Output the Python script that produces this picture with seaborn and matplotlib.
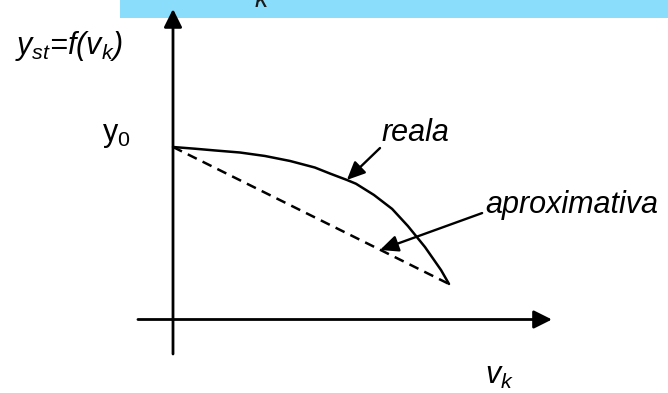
"""Schematic: static characteristic y_st = f(v_k), real vs approximated"""

import pandas as pd
import matplotlib.pyplot as plt
import seaborn as sns
from matplotlib.patches import Rectangle

#####################################################################
# data (v_k normalised so the curve ends at 1, y normalised so y0 = 1)
v_real = [0.0, 0.080, 0.152, 0.243, 0.333, 0.424, 0.514, 0.569, 0.630, 0.663, 0.728,
          0.794, 0.851, 0.913, 0.971, 1.0]
y_real = [1.0, 0.990, 0.980, 0.968, 0.948, 0.919, 0.881, 0.846, 0.809, 0.787, 0.722,
          0.641, 0.542, 0.420, 0.287, 0.206]
v_aprox = [0.0, 1.0]
y_aprox = [1.0, 0.206]

series_names = ["reala", "aproximativa"]

df = pd.concat([
    pd.DataFrame({"v": v_real, "y": y_real, "curba": series_names[0]}),
    pd.DataFrame({"v": v_aprox, "y": y_aprox, "curba": series_names[1]}),
])

#####################################################################
# style
sns.set_theme(style="white")
plt.rcParams["font.family"] = ["Liberation Sans", "DejaVu Sans"]
plt.rcParams["text.color"] = "black"
plt.rcParams["mathtext.fontset"] = "custom"
plt.rcParams["mathtext.it"] = "Liberation Sans:italic"
plt.rcParams["mathtext.rm"] = "Liberation Sans"

fig = plt.figure(figsize=(6.68, 3.93), dpi=100)
ax = fig.add_axes([0, 0, 1, 1])

# limits chosen so origin sits at px (173, 319.5)
ax.set_xlim(-173 / 276, (668 - 173) / 276)
ax.set_ylim(-(393 - 319.5) / 172.5, 319.5 / 172.5)
ax.set_axis_off()

# blue title band at the top (cut off)
ax.add_patch(Rectangle((120 / 668, 1 - 18 / 393), 548 / 668, 18 / 393,
                       transform=ax.transAxes, color="#8ADEFB", lw=0, zorder=0))
fig.text(255 / 668, 1 - 7 / 393, "k", fontsize=19, fontstyle="italic", color="k", va="baseline")

#####################################################################
# curves
sns.lineplot(data=df, x="v", y="y", style="curba", hue="curba",
             palette={"reala": "black", "aproximativa": "black"},
             dashes={"reala": "", "aproximativa": (4, 2.6)},
             estimator=None, sort=False, lw=1.8, legend=False, ax=ax, zorder=3)
for ln in ax.get_lines():
    ln.set_solid_joinstyle("round")

# axes arrows
axis_arrow = dict(arrowstyle="-|>,head_length=1.1,head_width=0.55", mutation_scale=10,
                  lw=2.0, color="black", shrinkA=0, shrinkB=0)
ax.annotate("", xy=(0, 1.80), xytext=(0, -0.20), arrowprops=axis_arrow)
ax.annotate("", xy=(1.373, 0), xytext=(-0.127, 0), arrowprops=axis_arrow)

# pointer arrows
ptr = dict(arrowstyle="-|>,head_length=1.1,head_width=0.5", mutation_scale=10,
           lw=1.7, color="black", shrinkA=0, shrinkB=0)
ax.annotate("", xy=(0.630, 0.809), xytext=(0.75, 0.994), arrowprops=ptr)
ax.annotate("", xy=(0.75, 0.403), xytext=(1.120, 0.617), arrowprops=ptr)

#####################################################################
# labels
fs = 22
ax.text(-0.572, 1.539, r"$y_{st}$=f($v_k$)", fontsize=fs, fontstyle="italic", va="baseline", ha="left")
ax.text(-0.257, 1.035, r"$\mathrm{y}_0$", fontsize=fs, va="baseline", ha="left")
ax.text(0.757, 1.035, "reala", fontsize=fs, fontstyle="italic", va="baseline", ha="left")
ax.text(1.130, 0.617, "aproximativa", fontsize=fs, fontstyle="italic", va="baseline", ha="left")
ax.text(1.130, -0.374, r"$v_k$", fontsize=fs, va="baseline", ha="left")

plt.savefig("out.png", dpi=100)
